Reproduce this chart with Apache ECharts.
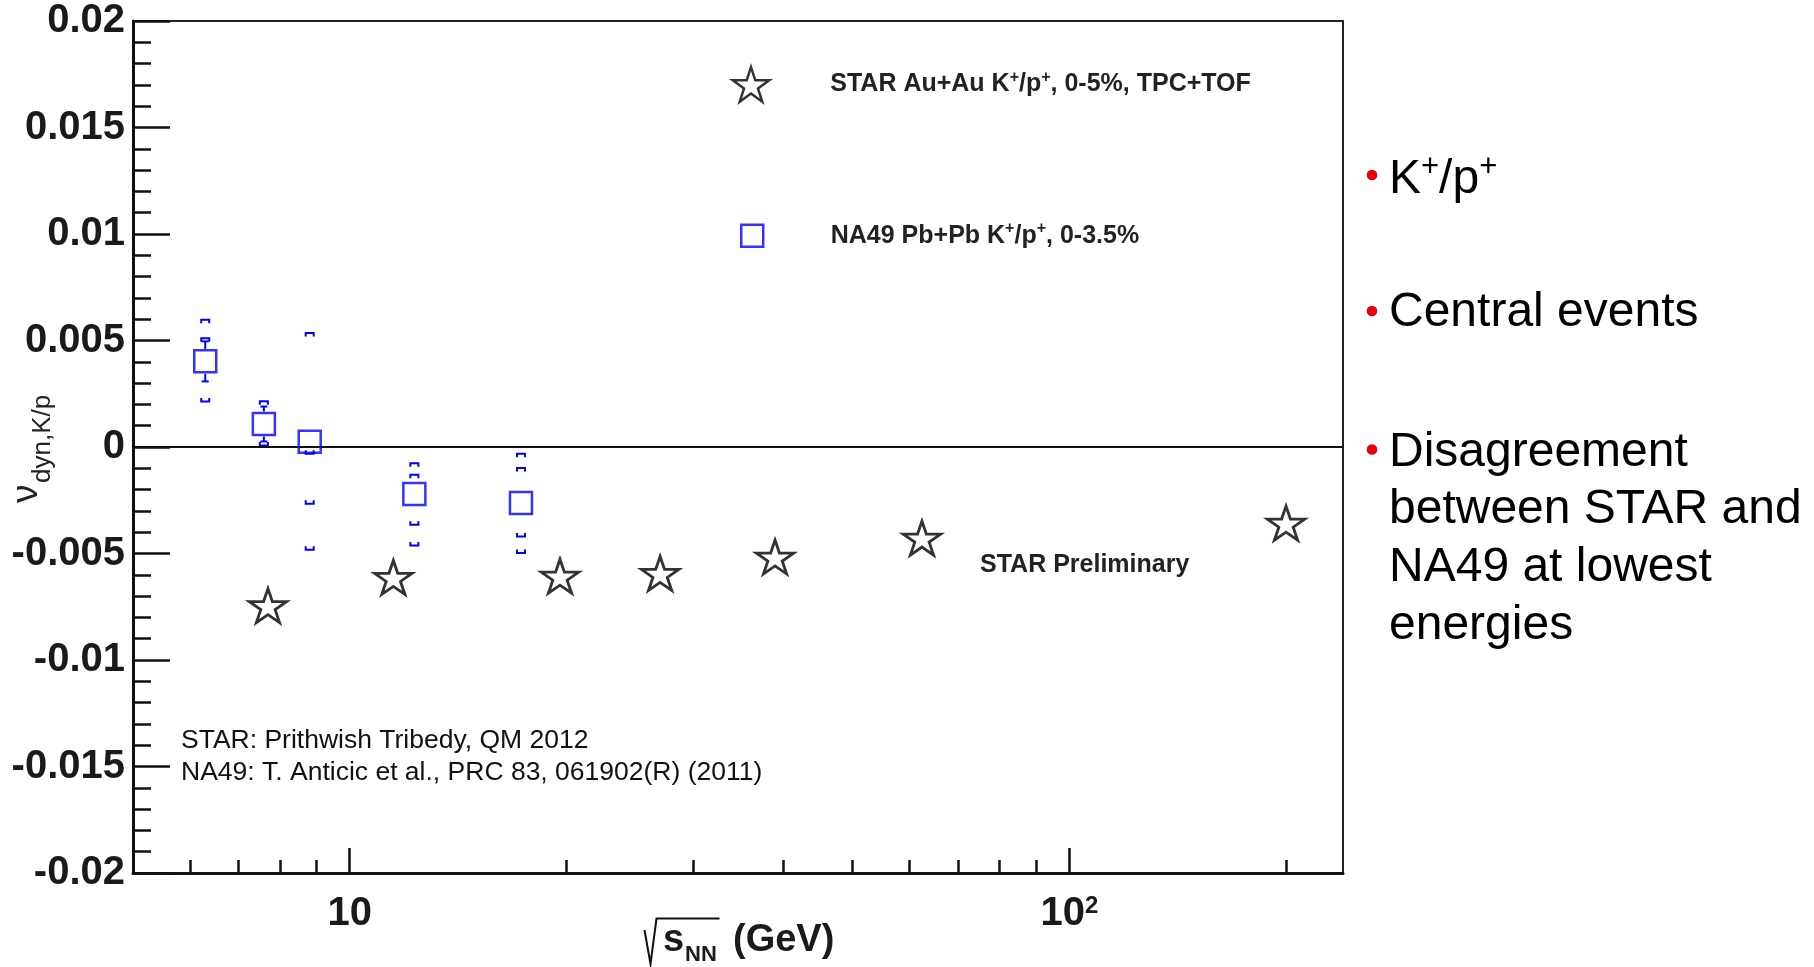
<!DOCTYPE html>
<html>
<head>
<meta charset="utf-8">
<script src="https://cdn.jsdelivr.net/npm/echarts@6/dist/echarts.min.js"></script>
<style>
html,body{margin:0;padding:0;background:#fff;}
#chart{width:1814px;height:967px;}
</style>
</head>
<body>
<div id="chart"></div>
<script>
// ---------------- data ----------------
const starEnergy = [7.7, 11.5, 19.6, 27, 39, 62.4, 200];
const starValue  = [-0.00754, -0.00622, -0.00616, -0.00603, -0.00526, -0.00437, -0.00367];

const na49Energy = [6.3, 7.6, 8.8, 12.3, 17.3];
const na49Value  = [0.00402, 0.00108, 0.00025, -0.00221, -0.00263];
const na49Stat   = [0.00094, 0.00082, 0.0005, 0.0004, 0.0005];
const na49SysMarks = [
  [0.00597, 0.00511, 0.00214],
  [0.00215, 0.00007],
  [0.00535, -0.00032, -0.00267, -0.00482],
  [-0.00076, -0.0013, -0.00365, -0.00462],
  [-0.00032, -0.00099, -0.0042, -0.00498]
];

const xRange = [5, 240];
const xMajorTicks = [10, 100];
const xMajorLabels = ['{n|10}', '{n|10}{sup|2}'];
const xMinorTicks = [6, 7, 8, 9, 20, 30, 40, 50, 60, 70, 80, 90, 200];
const yRange = [-0.02, 0.02];
const yStep = 0.005;

const legendStar = ['STAR Au+Au K', '+', '/p', '+', ', 0-5%, TPC+TOF'];
const legendNA49 = ['NA49 Pb+Pb K', '+', '/p', '+', ', 0-3.5%'];
const bullets = [['K', '+', '/p', '+'], 'Central events', 'Disagreement\nbetween STAR and\nNA49 at lowest\nenergies'];
const citations = ['STAR: Prithwish Tribedy, QM 2012', 'NA49: T. Anticic et al., PRC 83, 061902(R) (2011)'];

// ---------------- helpers ----------------
const FONT = "'Liberation Sans', Arial, Helvetica, sans-serif";
const BLUE = '#0000ff';
const lg = Math.log10;

function starPath() {
  const pts = [];
  for (let i = 0; i < 10; i++) {
    const r = i % 2 === 0 ? 50 : 50 * 0.382;
    const a = -Math.PI / 2 + i * Math.PI / 5;
    pts.push((50 + r * Math.cos(a)).toFixed(2) + ',' + (50 + r * Math.sin(a)).toFixed(2));
  }
  return 'path://M' + pts.join('L') + 'Z';
}
const STAR_SYMBOL = starPath();

function legendRich(parts) {
  let s = '{gap| }';
  parts.forEach((p, i) => { s += (i % 2 === 1 ? '{sup|' : '{b|') + p + '}'; });
  return s;
}

const starData = starEnergy.map((e, i) => [lg(e), starValue[i]]);
const na49Data = na49Energy.map((e, i) => [lg(e), na49Value[i]]);
const statData = na49Energy.map((e, i) => [lg(e), na49Value[i], na49Stat[i]]);
const sysData = [];
na49SysMarks.forEach((marks, i) => marks.forEach(m => sysData.push([lg(na49Energy[i]), m, na49Value[i]])));

const chart = echarts.init(document.getElementById('chart'), null, {renderer: 'canvas'});

const legendRichStyles = (gapW) => ({
  gap: {width: gapW, fontSize: 25, lineHeight: 30},
  b: {fontSize: 25, fontWeight: 'bold', color: '#222', fontFamily: FONT, lineHeight: 30},
  sup: {fontSize: 16, fontWeight: 'bold', color: '#222', fontFamily: FONT, lineHeight: 15, verticalAlign: 'top'}
});

const option = {
  animation: false,
  backgroundColor: '#fff',
  textStyle: {fontFamily: FONT},
  grid: {left: 133, top: 21, width: 1210, height: 852, show: true, borderColor: '#222', borderWidth: 2, backgroundColor: 'transparent'},
  xAxis: [
    {
      type: 'value', min: lg(xRange[0]), max: lg(xRange[1]), position: 'bottom',
      axisLine: {show: true, onZero: false, lineStyle: {color: '#111', width: 3}},
      axisTick: {show: true, inside: true, length: 25, customValues: xMajorTicks.map(lg), lineStyle: {color: '#111', width: 2.5}},
      axisLabel: {
        show: true, margin: 21, customValues: xMajorTicks.map(lg),
        formatter: function (v) {
          const idx = xMajorTicks.findIndex(t => Math.abs(lg(t) - v) < 1e-9);
          return idx >= 0 ? xMajorLabels[idx] : '';
        },
        rich: {
          n: {fontSize: 40, fontWeight: 'bold', color: '#1a1a1a', fontFamily: FONT, lineHeight: 40},
          sup: {fontSize: 24, fontWeight: 'bold', color: '#1a1a1a', fontFamily: FONT, lineHeight: 14, verticalAlign: 'top'}
        }
      },
      splitLine: {show: false}
    },
    {
      type: 'value', min: lg(xRange[0]), max: lg(xRange[1]), position: 'bottom',
      axisLine: {show: false, onZero: false},
      axisTick: {show: true, inside: true, length: 13, customValues: xMinorTicks.map(lg), lineStyle: {color: '#111', width: 2.5}},
      axisLabel: {show: false},
      splitLine: {show: false}
    }
  ],
  yAxis: {
    type: 'value', min: yRange[0], max: yRange[1], interval: yStep,
    axisLine: {show: true, onZero: false, lineStyle: {color: '#111', width: 3}},
    axisTick: {show: true, inside: true, length: 37, lineStyle: {color: '#111', width: 2.5}},
    minorTick: {show: true, splitNumber: 5, length: 18, lineStyle: {color: '#111', width: 2.5}},
    axisLabel: {margin: 8, fontSize: 40, fontWeight: 'bold', color: '#1a1a1a', fontFamily: FONT},
    splitLine: {show: false}
  },
  legend: [
    {
      data: ['STAR'], left: 731.5, top: 65.8, padding: 0, orient: 'vertical',
      itemWidth: 36.5, itemHeight: 34.7, selectedMode: false,
      itemStyle: {color: 'rgba(0,0,0,0)', borderColor: '#000', borderWidth: 2.5},
      formatter: () => legendRich(legendStar),
      textStyle: {rich: legendRichStyles(56)}
    },
    {
      data: ['NA49'], left: 740, top: 220.7, padding: 0, orient: 'vertical',
      itemWidth: 22, itemHeight: 22, selectedMode: false,
      itemStyle: {color: 'rgba(0,0,0,0)', borderColor: BLUE, borderWidth: 2.5},
      formatter: () => legendRich(legendNA49),
      textStyle: {rich: legendRichStyles(62.5)}
    }
  ],
  series: [
    {
      name: 'STAR', type: 'scatter', data: starData, z: 5,
      symbol: STAR_SYMBOL, symbolSize: [37.5, 35.7], symbolOffset: [0, -2], symbolKeepAspect: true,
      itemStyle: {color: 'rgba(0,0,0,0)', borderColor: '#000', borderWidth: 2.8},
      emphasis: {disabled: true},
      markLine: {
        silent: true, symbol: ['none', 'none'], label: {show: false},
        lineStyle: {color: '#111', width: 2, type: 'solid'},
        data: [{yAxis: 0}]
      }
    },
    {
      name: 'NA49', type: 'scatter', data: na49Data, z: 5,
      symbol: 'rect', symbolSize: 22,
      itemStyle: {color: 'rgba(0,0,0,0)', borderColor: BLUE, borderWidth: 2.5},
      emphasis: {disabled: true}
    },
    {
      name: 'NA49 stat', type: 'custom', data: statData, z: 4, silent: true,
      encode: {x: 0, y: 1},
      renderItem: function (params, api) {
        const x = api.value(0), v = api.value(1), e = api.value(2);
        const c = api.coord([x, v]);
        const hi = api.coord([x, v + e]);
        const lo = api.coord([x, v - e]);
        const half = 12.5;
        const kids = [];
        const st = () => ({stroke: BLUE, lineWidth: 2});
        if (c[1] - hi[1] > half) {
          kids.push({type: 'line', shape: {x1: c[0], y1: c[1] - half, x2: c[0], y2: hi[1]}, style: st()});
          kids.push({type: 'line', shape: {x1: c[0] - 3.5, y1: hi[1], x2: c[0] + 3.5, y2: hi[1]}, style: st()});
        }
        if (lo[1] - c[1] > half) {
          kids.push({type: 'line', shape: {x1: c[0], y1: c[1] + half, x2: c[0], y2: lo[1]}, style: st()});
          kids.push({type: 'line', shape: {x1: c[0] - 3.5, y1: lo[1], x2: c[0] + 3.5, y2: lo[1]}, style: st()});
        }
        return {type: 'group', children: kids};
      }
    },
    {
      name: 'NA49 sys', type: 'custom', data: sysData, z: 4, silent: true,
      encode: {x: 0, y: 1},
      renderItem: function (params, api) {
        const x = api.value(0), m = api.value(1), v = api.value(2);
        const p = api.coord([x, m]);
        const d = m > v ? 1 : -1;
        return {
          type: 'polyline',
          shape: {points: [[p[0] - 4, p[1] + 3.5 * d], [p[0] - 4, p[1]], [p[0] + 4, p[1]], [p[0] + 4, p[1] + 3.5 * d]]},
          style: {stroke: BLUE, lineWidth: 2, fill: 'none'}
        };
      }
    }
  ],
  graphic: [
    // y-axis title
    {type: 'text', x: 27, y: 503, rotation: Math.PI / 2,
     style: {text: 'ν', font: '37px ' + FONT, fill: '#222', align: 'left', verticalAlign: 'middle', textAlign: 'left', textVerticalAlign: 'middle'}},
    {type: 'text', x: 43, y: 483, rotation: Math.PI / 2,
     style: {text: 'dyn,K/p', font: '26px ' + FONT, fill: '#222', align: 'left', verticalAlign: 'middle', textAlign: 'left', textVerticalAlign: 'middle'}},
    // x-axis title
    {type: 'polyline', shape: {points: [[644.5, 930], [650.5, 964], [656.5, 918.5], [719.5, 918.5]]}, style: {stroke: '#111', lineWidth: 2, fill: 'none'}},
    {type: 'text', x: 663, y: 940.8, style: {text: 's', font: 'bold 38px ' + FONT, fill: '#1a1a1a', align: 'left', verticalAlign: 'middle', textAlign: 'left', textVerticalAlign: 'middle'}},
    {type: 'text', x: 685, y: 955.4, style: {text: 'NN', font: 'bold 22px ' + FONT, fill: '#1a1a1a', align: 'left', verticalAlign: 'middle', textAlign: 'left', textVerticalAlign: 'middle'}},
    {type: 'text', x: 733, y: 940.8, style: {text: '(GeV)', font: 'bold 38px ' + FONT, fill: '#1a1a1a', align: 'left', verticalAlign: 'middle', textAlign: 'left', textVerticalAlign: 'middle'}},
    // annotations
    {type: 'text', x: 980, y: 565.5, style: {text: 'STAR Preliminary', font: 'bold 25px ' + FONT, fill: '#222', align: 'left', verticalAlign: 'middle', textAlign: 'left', textVerticalAlign: 'middle'}},
    {type: 'text', x: 181, y: 741, style: {text: citations[0], font: '26.5px ' + FONT, fill: '#111', align: 'left', verticalAlign: 'middle', textAlign: 'left', textVerticalAlign: 'middle'}},
    {type: 'text', x: 181, y: 773, style: {text: citations[1], font: '26.5px ' + FONT, fill: '#111', align: 'left', verticalAlign: 'middle', textAlign: 'left', textVerticalAlign: 'middle'}},
    // right-hand bullets
    {type: 'circle', shape: {cx: 1372, cy: 175, r: 5.3}, style: {fill: '#e8000b'}},
    {type: 'circle', shape: {cx: 1372, cy: 311, r: 5.3}, style: {fill: '#e8000b'}},
    {type: 'circle', shape: {cx: 1372, cy: 449.5, r: 5.3}, style: {fill: '#e8000b'}},
    {type: 'text', x: 1389, y: 179.5, style: {
      text: '{k|' + bullets[0][0] + '}{s|' + bullets[0][1] + '}{k|' + bullets[0][2] + '}{s|' + bullets[0][3] + '}',
      align: 'left', verticalAlign: 'middle', textAlign: 'left', textVerticalAlign: 'middle',
      rich: {
        k: {fontSize: 48, fontFamily: FONT, fill: '#000', color: '#000', lineHeight: 56},
        s: {fontSize: 31, fontFamily: FONT, fill: '#000', color: '#000', lineHeight: 45, verticalAlign: 'top'}
      }}},
    {type: 'text', x: 1389, y: 313, style: {text: bullets[1], font: '48px ' + FONT, fill: '#000', align: 'left', verticalAlign: 'middle', textAlign: 'left', textVerticalAlign: 'middle'}},
    {type: 'text', x: 1389, y: 423.5, style: {text: bullets[2], font: '48px ' + FONT, fill: '#000', lineHeight: 57.8, align: 'left', verticalAlign: 'top', textAlign: 'left', textVerticalAlign: 'top'}}
  ]
};

chart.setOption(option);
</script>
</body>
</html>
